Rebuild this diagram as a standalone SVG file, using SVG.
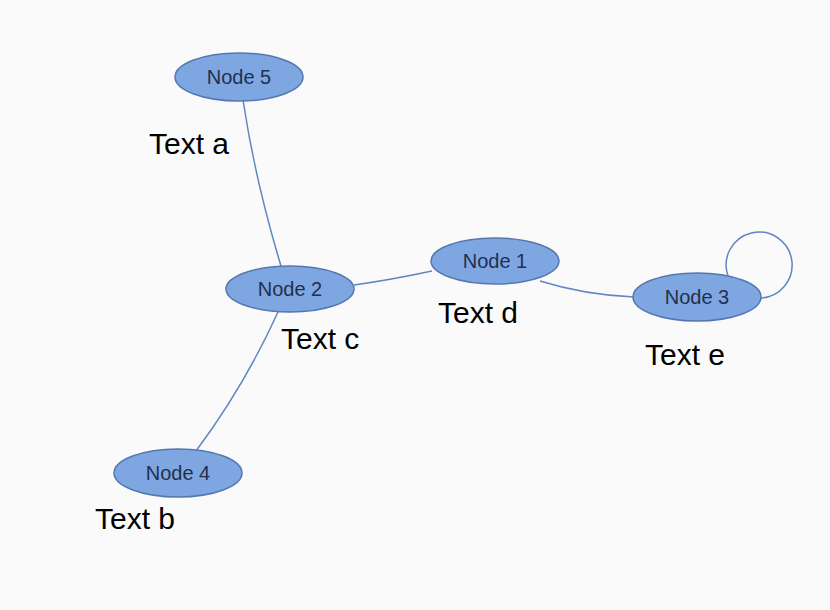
<svg xmlns="http://www.w3.org/2000/svg" width="830" height="610" viewBox="0 0 830 610">
<style>
.n ellipse{fill:#7ea6e0;stroke:#5577b0;stroke-width:1.5}
.n text{font-family:"Liberation Sans",Arial,sans-serif;font-size:20px;fill:#223050;text-anchor:middle}
.e path{fill:none;stroke:#5f86c2;stroke-width:1.5}
.l{font-family:"Liberation Sans",Arial,sans-serif;font-size:30px;fill:#000}
</style>
<rect width="830" height="610" fill="#fafafa"/>
<g class="e" id="edges">
<path d="M243,100 Q255,180 281,266"/>
<path d="M354,285 Q390,280 432,271"/>
<path d="M540,281 Q585,295 634,297"/>
<path d="M278,312 Q245,385 196,451"/>
<path d="M728,276 A33,33 0 1 1 760,298"/>
</g>
<g class="n" id="node5"><ellipse cx="239" cy="77" rx="64" ry="24"/><text x="239" y="84">Node 5</text></g>
<g class="n" id="node2"><ellipse cx="290" cy="289" rx="64" ry="23"/><text x="290" y="296">Node 2</text></g>
<g class="n" id="node1"><ellipse cx="495" cy="261" rx="64" ry="23"/><text x="495" y="268">Node 1</text></g>
<g class="n" id="node3"><ellipse cx="697" cy="297" rx="64" ry="24"/><text x="697" y="304">Node 3</text></g>
<g class="n" id="node4"><ellipse cx="178" cy="473" rx="64" ry="24"/><text x="178" y="480">Node 4</text></g>
<text class="l" x="149" y="154">Text a</text>
<text class="l" x="281" y="349">Text c</text>
<text class="l" x="438" y="323">Text d</text>
<text class="l" x="645" y="365">Text e</text>
<text class="l" x="95" y="529">Text b</text>
</svg>
